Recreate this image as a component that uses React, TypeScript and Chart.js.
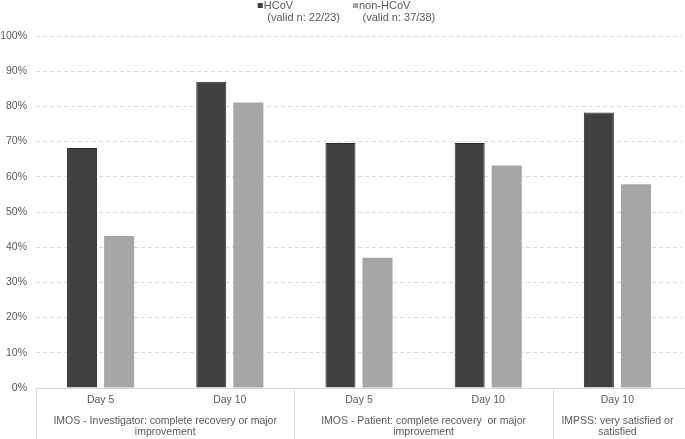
import { useEffect, useRef } from "react"
import { Chart, registerables } from "chart.js"

Chart.register(...registerables)

const categories = ["Day 5", "Day 10", "Day 5", "Day 10", "Day 10"]
const groupLabels = [
  ["IMOS - Investigator: complete recovery or major", "improvement"],
  ["IMOS - Patient: complete recovery  or major", "improvement"],
  ["IMPSS: very satisfied or", "satisfied"],
]
const groupSizes = [2, 2, 1]
const seriesNames = ["HCoV", "non-HCoV"]
const seriesNotes = ["(valid n: 22/23)", "(valid n: 37/38)"]
const hcovValues = [68.2, 87.0, 69.6, 69.6, 78.3]
const nonHcovValues = [43.2, 81.1, 37.0, 63.2, 57.9]
const yMax = 100
const yStep = 10

const COLORS = ["#404040", "#a6a6a6"]
const TEXT = "#595959"
const GRID = "#d9d9d9"
const FAMILY = "'Liberation Sans', Arial, sans-serif"
const SIZE = 10.5

// draws the top legend, the axis box under the plot and the group labels
const excelLayout = {
  id: "excelLayout",
  beforeDatasetsDraw(chart: any) {
    const { ctx, chartArea, scales } = chart
    const x = scales.x
    const half = (x.getPixelForValue(1) - x.getPixelForValue(0)) / 2
    const base = Math.round(chartArea.bottom) + 0.5
    ctx.save()
    ctx.strokeStyle = GRID
    ctx.lineWidth = 1
    ctx.beginPath()
    ctx.moveTo(chartArea.left, base)
    ctx.lineTo(chart.width, base)
    let start = 0
    groupSizes.forEach((n) => {
      const px = Math.round(x.getPixelForValue(start) - half) + 0.5
      ctx.moveTo(px, base)
      ctx.lineTo(px, chart.height)
      start += n
    })
    ctx.stroke()
    ctx.restore()
  },
  afterDraw(chart: any) {
    const { ctx, chartArea, scales } = chart
    const x = scales.x
    const half = (x.getPixelForValue(1) - x.getPixelForValue(0)) / 2
    ctx.save()
    ctx.font = `${SIZE}px ${FAMILY}`
    ctx.fillStyle = TEXT
    ctx.textBaseline = "middle"

    // group labels
    ctx.textAlign = "center"
    let start = 0
    groupSizes.forEach((n, i) => {
      const left = x.getPixelForValue(start) - half
      const right = x.getPixelForValue(start + n - 1) + half
      groupLabels[i].forEach((line, j) => {
        ctx.fillText(line, (left + right) / 2, chartArea.bottom + 33 + j * 11)
      })
      start += n
    })

    // legend
    ctx.font = `11px ${FAMILY}`
    ctx.textAlign = "left"
    const widths = seriesNames.map((name, i) =>
      6 + Math.max(ctx.measureText(name).width, 3.5 + ctx.measureText(seriesNotes[i]).width)
    )
    const total = widths.reduce((a, b) => a + b, 0) + 13 * (widths.length - 1)
    let lx = chart.width / 2 + 4 - total / 2
    seriesNames.forEach((name, i) => {
      ctx.fillStyle = COLORS[i]
      ctx.fillRect(lx, 3, 5, 5)
      ctx.fillStyle = TEXT
      ctx.fillText(name, lx + 6, 6)
      ctx.fillText(seriesNotes[i], lx + 9.5, 17.5)
      lx += widths[i] + 13
    })
    ctx.restore()
  },
}

export default function App() {
  const chartRef = useRef<HTMLCanvasElement>(null)
  const chartInstance = useRef<Chart | null>(null)

  useEffect(() => {
    document.body.style.margin = "0"
    if (!chartRef.current) return
    const ctx = chartRef.current.getContext("2d")
    if (!ctx) return

    if (chartInstance.current) {
      chartInstance.current.destroy()
    }

    chartInstance.current = new Chart(ctx, {
      type: "bar",
      data: {
        labels: categories,
        datasets: [
          {
            label: seriesNames[0],
            data: hcovValues,
            backgroundColor: COLORS[0],
            borderColor: "#2b2b2b",
            borderWidth: 1,
            categoryPercentage: 0.574,
            barPercentage: 0.81,
          },
          {
            label: seriesNames[1],
            data: nonHcovValues,
            backgroundColor: COLORS[1],
            borderWidth: 0,
            categoryPercentage: 0.574,
            barPercentage: 0.81,
          },
        ],
      },
      options: {
        responsive: true,
        maintainAspectRatio: false,
        animation: false,
        layout: {
          padding: { top: 36, right: 3, left: 0, bottom: 0 },
        },
        plugins: {
          legend: { display: false },
          tooltip: { enabled: false },
        },
        scales: {
          x: {
            grid: { display: false, drawTicks: false },
            border: { display: false },
            ticks: {
              color: TEXT,
              padding: 6,
              font: { family: FAMILY, size: SIZE },
            },
            afterFit: (scale: any) => {
              scale.height = 51
            },
          },
          y: {
            min: 0,
            max: yMax,
            grid: {
              drawTicks: false,
              color: (c: any) => (c.tick && c.tick.value === 0 ? "rgba(0,0,0,0)" : GRID),
            },
            border: { display: false, dash: [4, 3] },
            ticks: {
              stepSize: yStep,
              color: TEXT,
              padding: 9,
              font: { family: FAMILY, size: SIZE },
              callback: (v: any) => `${v}%`,
            },
            afterFit: (scale: any) => {
              scale.width = 36
            },
          },
        },
      },
      plugins: [excelLayout],
    })

    return () => {
      if (chartInstance.current) {
        chartInstance.current.destroy()
        chartInstance.current = null
      }
    }
  }, [])

  return (
    <div style={{ width: 685, height: 439, position: "relative", background: "#fff" }}>
      <canvas ref={chartRef} />
    </div>
  )
}
